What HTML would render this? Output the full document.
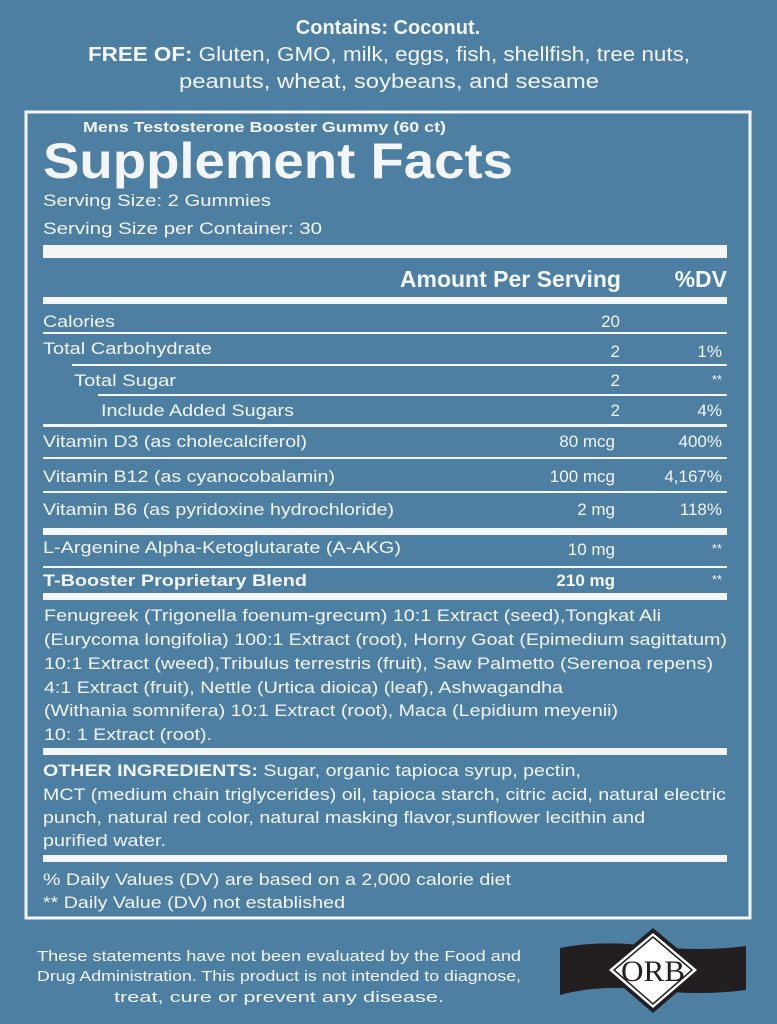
<!DOCTYPE html>
<html><head><meta charset="utf-8"><style>
html,body{margin:0;padding:0;background:#4d7fa2;}
svg{display:block}
text{font-family:"Liberation Sans",sans-serif;fill:#f3f5f7}
</style></head><body>
<svg width="777" height="1024" viewBox="0 0 777 1024" xmlns="http://www.w3.org/2000/svg">
<rect width="777" height="1024" fill="#4d7fa2"/>
<g font-weight="bold" font-size="20" text-anchor="middle">
<text x="388" y="34">Contains: Coconut.</text>
<text x="389" y="61" textLength="602" lengthAdjust="spacingAndGlyphs"><tspan>FREE OF:</tspan><tspan font-weight="normal"> Gluten, GMO, milk, eggs, fish, shellfish, tree nuts,</tspan></text>
<text x="389" y="88" font-weight="normal" textLength="420" lengthAdjust="spacingAndGlyphs">peanuts, wheat, soybeans, and sesame</text>
</g>
<rect x="26" y="112" width="724" height="806" fill="none" stroke="#f3f5f7" stroke-width="3"/>
<text x="83" y="132" font-size="15" font-weight="bold" textLength="363" lengthAdjust="spacingAndGlyphs">Mens Testosterone Booster Gummy (60 ct)</text>
<text x="43" y="178" font-size="50" font-weight="bold" textLength="470" lengthAdjust="spacingAndGlyphs">Supplement Facts</text>
<text x="43" y="206" font-size="17" textLength="228" lengthAdjust="spacingAndGlyphs">Serving Size:  2 Gummies</text>
<text x="43" y="234" font-size="17" textLength="279" lengthAdjust="spacingAndGlyphs">Serving Size per Container:   30</text>
<rect x="43" y="245" width="684" height="13" fill="#f3f5f7"/>
<text x="621" y="287" font-size="23" font-weight="bold" text-anchor="end">Amount Per Serving</text>
<text x="727" y="287" font-size="23" font-weight="bold" text-anchor="end">%DV</text>
<rect x="43" y="297" width="684" height="7" fill="#f3f5f7"/>
<g font-size="17">
<text x="43" y="327" textLength="72" lengthAdjust="spacingAndGlyphs">Calories</text>
<text x="620" y="327" text-anchor="end">20</text>
<rect x="43" y="332" width="684" height="2" fill="#f3f5f7"/>
<text x="43" y="354" textLength="169" lengthAdjust="spacingAndGlyphs">Total Carbohydrate</text>
<text x="620" y="357" text-anchor="end">2</text><text x="722" y="357" text-anchor="end">1%</text>
<rect x="72" y="364" width="655" height="2" fill="#f3f5f7"/>
<text x="74" y="386" textLength="102" lengthAdjust="spacingAndGlyphs">Total Sugar</text>
<text x="620" y="386" text-anchor="end">2</text><text x="722" y="384" text-anchor="end" font-size="13">**</text>
<rect x="98" y="394" width="629" height="2" fill="#f3f5f7"/>
<text x="101" y="416" textLength="193" lengthAdjust="spacingAndGlyphs">Include Added Sugars</text>
<text x="620" y="416" text-anchor="end">2</text><text x="722" y="416" text-anchor="end">4%</text>
<rect x="43" y="424" width="684" height="3" fill="#f3f5f7"/>
<text x="43" y="447" textLength="264" lengthAdjust="spacingAndGlyphs">Vitamin D3 (as cholecalciferol)</text>
<text x="615" y="447" text-anchor="end">80 mcg</text><text x="722" y="447" text-anchor="end">400%</text>
<rect x="43" y="457" width="684" height="2" fill="#f3f5f7"/>
<text x="43" y="482" textLength="292" lengthAdjust="spacingAndGlyphs">Vitamin B12 (as cyanocobalamin)</text>
<text x="615" y="482" text-anchor="end">100 mcg</text><text x="722" y="482" text-anchor="end">4,167%</text>
<rect x="43" y="491" width="684" height="2" fill="#f3f5f7"/>
<text x="43" y="515" textLength="351" lengthAdjust="spacingAndGlyphs">Vitamin B6 (as pyridoxine hydrochloride)</text>
<text x="615" y="515" text-anchor="end">2 mg</text><text x="722" y="515" text-anchor="end">118%</text>
<rect x="43" y="528" width="684" height="7" fill="#f3f5f7"/>
<text x="43" y="553" textLength="358" lengthAdjust="spacingAndGlyphs">L-Argenine Alpha-Ketoglutarate (A-AKG)</text>
<text x="615" y="555" text-anchor="end">10 mg</text><text x="722" y="553" text-anchor="end" font-size="13">**</text>
<rect x="43" y="566" width="684" height="2" fill="#f3f5f7"/>
<text x="43" y="586" font-weight="bold" textLength="264" lengthAdjust="spacingAndGlyphs">T-Booster Proprietary Blend</text>
<text x="615" y="586" text-anchor="end" font-weight="bold">210 mg</text><text x="722" y="584" text-anchor="end" font-size="13">**</text>
<rect x="43" y="593" width="684" height="7" fill="#f3f5f7"/>
<text x="44" y="621" textLength="617" lengthAdjust="spacingAndGlyphs">Fenugreek (Trigonella foenum-grecum) 10:1 Extract (seed),Tongkat Ali</text>
<text x="44" y="645" textLength="683" lengthAdjust="spacingAndGlyphs">(Eurycoma longifolia) 100:1 Extract (root), Horny Goat (Epimedium sagittatum)</text>
<text x="44" y="669" textLength="669" lengthAdjust="spacingAndGlyphs">10:1 Extract (weed),Tribulus terrestris (fruit), Saw Palmetto (Serenoa repens)</text>
<text x="44" y="693" textLength="519" lengthAdjust="spacingAndGlyphs">4:1 Extract (fruit), Nettle (Urtica dioica) (leaf), Ashwagandha</text>
<text x="44" y="716" textLength="574" lengthAdjust="spacingAndGlyphs">(Withania somnifera) 10:1 Extract (root), Maca (Lepidium meyenii)</text>
<text x="44" y="740" textLength="168" lengthAdjust="spacingAndGlyphs">10: 1 Extract (root).</text>
<rect x="43" y="748" width="684" height="7" fill="#f3f5f7"/>
<text x="43" y="776" textLength="538" lengthAdjust="spacingAndGlyphs"><tspan font-weight="bold">OTHER INGREDIENTS:</tspan> Sugar, organic tapioca syrup, pectin,</text>
<text x="43" y="800" textLength="683" lengthAdjust="spacingAndGlyphs">MCT (medium chain triglycerides) oil, tapioca starch, citric acid, natural electric</text>
<text x="43" y="823" textLength="602" lengthAdjust="spacingAndGlyphs">punch, natural red color, natural masking flavor,sunflower lecithin and</text>
<text x="43" y="846" textLength="123" lengthAdjust="spacingAndGlyphs">purified water.</text>
<rect x="43" y="855" width="684" height="7" fill="#f3f5f7"/>
<text x="43" y="885" textLength="468" lengthAdjust="spacingAndGlyphs">% Daily Values (DV) are based on a 2,000 calorie diet</text>
<text x="43" y="908" textLength="302" lengthAdjust="spacingAndGlyphs">** Daily Value (DV) not established</text>
</g>
<g font-size="15" text-anchor="middle">
<text x="279" y="961" textLength="484" lengthAdjust="spacingAndGlyphs">These statements have not been evaluated by the Food and</text>
<text x="279" y="981" textLength="484" lengthAdjust="spacingAndGlyphs">Drug Administration. This product is not intended to diagnose,</text>
<text x="279" y="1002" textLength="330" lengthAdjust="spacingAndGlyphs">treat, cure or prevent any disease.</text>
</g>
<path d="M560 948 Q600 940 650 946 Q700 952 746 946 L746 990 Q700 996 650 990 Q600 984 560 995 Z" fill="#231f20"/>
<polygon points="653,928 703,970 653,1013 603,970" fill="#231f20"/>
<polygon points="653,933 697,970 653,1008 609,970" fill="#fff"/>
<polygon points="653,937 692,970 653,1004 614,970" fill="none" stroke="#231f20" stroke-width="1.5"/>
<text x="653" y="981" font-size="30" text-anchor="middle" textLength="64" lengthAdjust="spacingAndGlyphs" style="fill:#231f20;font-family:'Liberation Serif',serif">ORB</text>
</svg>
</body></html>
